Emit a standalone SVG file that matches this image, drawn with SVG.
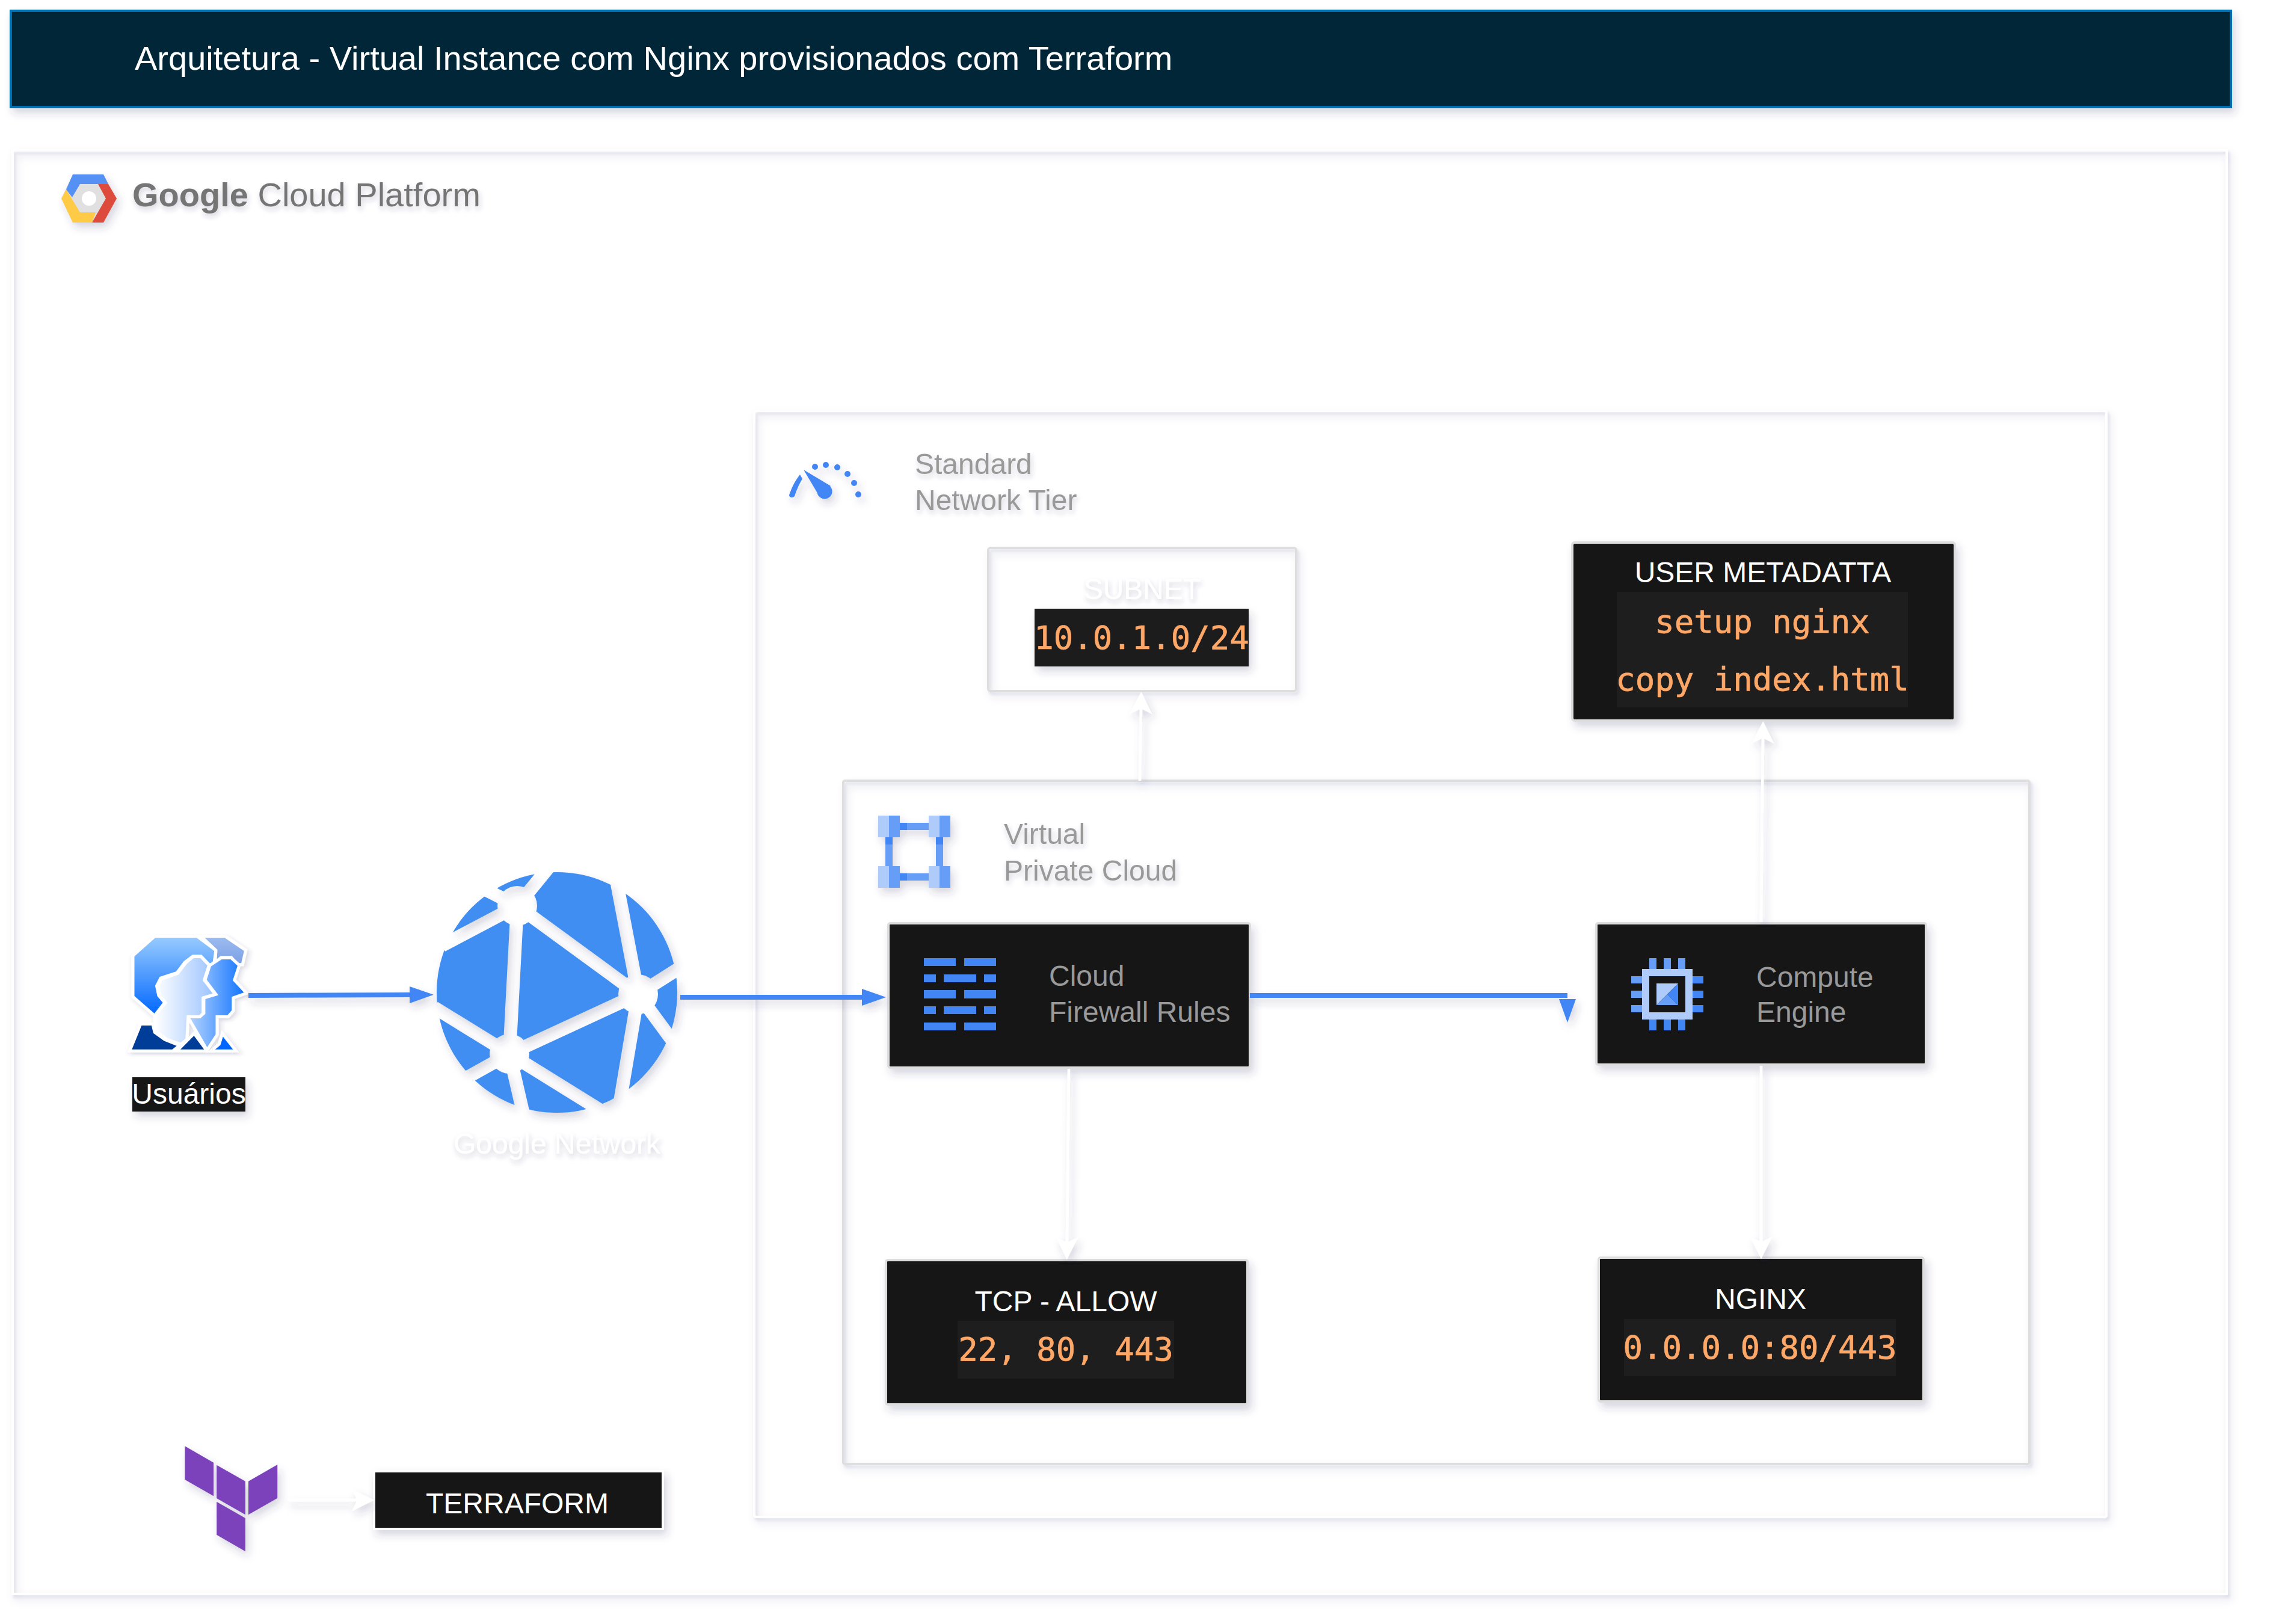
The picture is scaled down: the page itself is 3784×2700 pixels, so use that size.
<svg xmlns="http://www.w3.org/2000/svg" width="3784" height="2700" viewBox="0 0 3784 2700">
<style>
text{font-family:"Liberation Sans",Arial,sans-serif;font-size:48px}
.sh{filter:url(#sh)}
.ts{filter:url(#ts)}
.fr{filter:url(#fr)}
.box{fill:#171717;stroke:#dedede;stroke-width:4}
.frame{fill:none;stroke:#fff;stroke-width:4}
.grey{fill:none;stroke:#dedede;stroke-width:4}
.code{fill:#1e1e1e}
.mono{font-family:"DejaVu Sans Mono","Liberation Mono",monospace;font-size:54px;fill:#ffa766;stroke:#ffa766;stroke-width:.7;text-anchor:middle}
.w{fill:#fff}
.g{fill:#999}
.m{text-anchor:middle}
.b{fill:#4285f4}
.bl{stroke:#4285f4;stroke-width:8;fill:none}
.wl{stroke:#fff;stroke-width:4.5;fill:none}
.u{stroke:#fff;stroke-width:5;vector-effect:non-scaling-stroke;stroke-linejoin:miter}
</style>
<defs>
<filter id="sh" filterUnits="userSpaceOnUse" x="0" y="0" width="3784" height="2700"><feDropShadow dx="5" dy="8" stdDeviation="7" flood-color="#35356a" flood-opacity=".2"/></filter>
<filter id="ts" filterUnits="userSpaceOnUse" x="0" y="0" width="3784" height="2700"><feDropShadow dx="2" dy="5" stdDeviation="4" flood-color="#35356a" flood-opacity=".22"/></filter>
<filter id="fr" filterUnits="userSpaceOnUse" x="0" y="0" width="3784" height="2700">
<feDropShadow in="SourceGraphic" dx="5" dy="8" stdDeviation="7" flood-color="#35356a" flood-opacity=".14" result="a"/>
<feDropShadow in="a" dx="3" dy="4" stdDeviation="2" flood-color="#35356a" flood-opacity=".1"/></filter>
<marker id="mb" markerUnits="userSpaceOnUse" markerWidth="42" markerHeight="30" refX="0" refY="15" orient="auto"><polygon points="0,1 40,15 0,29" fill="#4285f4"/></marker>
<marker id="mbd" markerUnits="userSpaceOnUse" markerWidth="48" markerHeight="30" refX="-6" refY="15" orient="90" overflow="visible"><polygon points="0,1 39,15 0,29" fill="#4285f4"/></marker>
<marker id="mw" markerUnits="userSpaceOnUse" markerWidth="40" markerHeight="40" refX="9" refY="19" orient="auto"><polygon points="0,0.5 37,19 0,37.5 9,19" fill="#fff"/></marker>
<linearGradient id="ga" x1="0" y1="0" x2="0" y2="1"><stop offset="0" stop-color="#99ccff"/><stop offset="1" stop-color="#0066ff"/></linearGradient>
<linearGradient id="gb" x1="0" y1="0" x2="0" y2="1"><stop offset="0" stop-color="#9dbcf0"/><stop offset="1" stop-color="#7a9fe4"/></linearGradient>
<linearGradient id="gc" x1="0" y1="0" x2="1" y2="0"><stop offset="0" stop-color="#b8d6ff"/><stop offset="1" stop-color="#0a70ff"/></linearGradient>
<linearGradient id="gd" x1="0" y1="0" x2="1" y2="0"><stop offset="0" stop-color="#ffffff"/><stop offset="1" stop-color="#99c2ff"/></linearGradient>
<mask id="globe" maskUnits="userSpaceOnUse" x="700" y="1420" width="460" height="460">
<circle cx="926" cy="1650" r="200" fill="#fff"/>
<g stroke="#000" stroke-width="22" fill="none">
<path d="M860 1506L1061 1653L847 1752ZM860 1506L914 1440M860 1506L735 1572M860 1506L805 1478"/>
<path d="M1061 1653L1026 1470M1061 1653L1135 1606M1061 1653L1125 1740M1061 1653L1026 1860"/>
<path d="M847 1752L722 1675M847 1752L770 1795M847 1752L872 1860M847 1752L1005 1850"/>
</g>
<g fill="#000"><circle cx="860" cy="1506" r="33"/><circle cx="1061" cy="1653" r="33"/><circle cx="847" cy="1752" r="33"/></g>
</mask>
</defs>
<rect width="3784" height="2700" fill="#fff"/>

<g id="title"><rect class="sh" x="18" y="18" width="3691" height="160" fill="#012639" stroke="#006eaf" stroke-width="4"/>
<text class="w" x="224" y="116" style="font-size:56px">Arquitetura - Virtual Instance com Nginx provisionados com Terraform</text></g>

<g id="gcp"><rect class="frame fr" x="21" y="250" width="3681" height="2400"/>
<g class="sh"><polygon points="121,290 172,290 194,330 172,370 121,370 102,330" fill="#e0e0e0"/>
<polygon points="121,290 172,290 180,306 133,306 120,328 110,315" fill="#5591f5"/>
<polygon points="163,306 180,306 194,330 172,370 153,370 176,330" fill="#dd4b3e"/>
<polygon points="102,330 110,315 133,353 159,353 153,370 121,370" fill="#ffcb47"/>
<circle cx="148" cy="330" r="12" fill="#fff"/></g>
<text class="ts" x="220" y="343" fill="#757575" style="font-size:56px"><tspan font-weight="bold">Google</tspan> Cloud Platform</text></g>

<g id="tier"><rect class="frame fr" x="1254" y="683" width="2248" height="1839" rx="3"/>
<g class="sh"><path d="M1312 823C1316 812 1320 802 1330 789L1334 796C1327 808 1324 816 1321 825C1318 828 1312 828 1312 823Z" class="b"/>
<path d="M1336 781L1381 808L1361 823Z" class="b"/><circle cx="1371" cy="817" r="12.5" class="b"/>
<g class="b"><circle cx="1355" cy="776" r="5"/><circle cx="1373" cy="773" r="5"/><circle cx="1392" cy="777" r="5"/><circle cx="1409" cy="788" r="5"/><circle cx="1420" cy="803" r="5"/><circle cx="1427" cy="822" r="5"/></g></g>
<text class="g ts" x="1521" y="788">Standard</text><text class="g ts" x="1521" y="848">Network Tier</text></g>

<g id="subnet"><rect class="grey fr" x="1643" y="911" width="512" height="238" rx="4"/>
<text class="w m ts" x="1899" y="996">SUBNET</text>
<rect class="sh" x="1720" y="1012" width="356" height="96" fill="#1e1e1e"/>
<text class="mono" x="1898" y="1079">10.0.1.0/24</text></g>

<g id="metadata"><rect class="box sh" x="2614" y="902" width="636" height="296" rx="4"/>
<text class="w m" x="2931" y="968">USER METADATTA</text>
<rect class="code" x="2688" y="984" width="484" height="192"/>
<text class="mono" x="2930" y="1052">setup nginx</text><text class="mono" x="2930" y="1148">copy index.html</text></g>

<g id="vpc"><rect class="grey fr" x="1402" y="1298" width="1972" height="1136" rx="3"/>
<g class="sh"><rect x="1472" y="1392" width="12" height="48" fill="#669df6"/><rect x="1556" y="1392" width="12" height="48" fill="#669df6"/>
<rect x="1472" y="1392" width="12" height="12" fill="#4285f4"/><rect x="1556" y="1392" width="12" height="12" fill="#4285f4"/>
<rect x="1496" y="1368" width="48" height="12" fill="#669df6"/><rect x="1496" y="1368" width="12" height="12" fill="#4285f4"/>
<rect x="1496" y="1452" width="48" height="12" fill="#669df6"/><rect x="1496" y="1452" width="12" height="12" fill="#4285f4"/>
<g fill="#aecbfa"><rect x="1460" y="1356" width="18" height="36"/><rect x="1544" y="1356" width="18" height="36"/><rect x="1460" y="1440" width="18" height="36"/><rect x="1544" y="1440" width="18" height="36"/></g>
<g fill="#669df6"><rect x="1478" y="1356" width="18" height="36"/><rect x="1562" y="1356" width="18" height="36"/><rect x="1478" y="1440" width="18" height="36"/><rect x="1562" y="1440" width="18" height="36"/></g></g>
<text class="g ts" x="1669" y="1403">Virtual</text><text class="g ts" x="1669" y="1464">Private Cloud</text></g>

<g id="firewall"><rect class="box sh" x="1477" y="1535" width="601" height="240" rx="3"/>
<g class="b"><rect x="1536" y="1593" width="53" height="13"/><rect x="1603" y="1593" width="53" height="13"/>
<rect x="1536" y="1620" width="20" height="13"/><rect x="1569" y="1620" width="54" height="13"/><rect x="1636" y="1620" width="20" height="13"/>
<rect x="1536" y="1646" width="53" height="14"/><rect x="1603" y="1646" width="53" height="14"/>
<rect x="1536" y="1673" width="20" height="13"/><rect x="1569" y="1673" width="54" height="13"/><rect x="1636" y="1673" width="20" height="13"/>
<rect x="1536" y="1700" width="53" height="13"/><rect x="1603" y="1700" width="53" height="13"/></g>
<text class="g" x="1744" y="1639">Cloud</text><text class="g" x="1744" y="1699">Firewall Rules</text></g>

<g id="compute"><rect class="box sh" x="2654" y="1535" width="548" height="235" rx="3"/>
<g fill="#669df6"><rect x="2742" y="1593" width="12" height="18"/><rect x="2766" y="1593" width="12" height="18"/><rect x="2790" y="1593" width="12" height="18"/>
<rect x="2712" y="1623" width="18" height="12"/><rect x="2712" y="1647" width="18" height="12"/><rect x="2712" y="1671" width="18" height="12"/></g>
<g class="b"><rect x="2742" y="1695" width="12" height="18"/><rect x="2766" y="1695" width="12" height="18"/><rect x="2790" y="1695" width="12" height="18"/>
<rect x="2814" y="1623" width="18" height="12"/><rect x="2814" y="1647" width="18" height="12"/><rect x="2814" y="1671" width="18" height="12"/></g>
<path fill="#aecbfa" fill-rule="evenodd" d="M2730 1611H2814V1695H2730ZM2742 1623V1683H2802V1623Z"/>
<polygon points="2754,1635 2790,1635 2754,1671" fill="#aecbfa"/><polygon points="2790,1635 2790,1671 2772,1653" fill="#4285f4"/><polygon points="2754,1671 2790,1671 2772,1653" fill="#669df6"/>
<text class="g" x="2920" y="1641">Compute</text><text class="g" x="2920" y="1699">Engine</text></g>

<g id="tcp"><rect class="box sh" x="1473" y="2095" width="601" height="240" rx="3"/>
<text class="w m" x="1772" y="2180">TCP - ALLOW</text>
<rect class="code" x="1592" y="2196" width="360" height="96"/>
<text class="mono" x="1772" y="2262">22, 80, 443</text></g>

<g id="nginx"><rect class="box sh" x="2658" y="2091" width="540" height="239" rx="3"/>
<text class="w m" x="2927" y="2176">NGINX</text>
<rect class="code" x="2700" y="2193" width="452" height="95"/>
<text class="mono" x="2926" y="2259">0.0.0.0:80/443</text></g>

<g id="users"><g class="sh" transform="translate(150 1400) scale(.6698 .3954)">
<polygon class="u" fill="url(#ga)" points="160,396 265,396 312,455 307,515 295,515 275,480 255,480 235,505 215,550 175,572 165,605 170,645 185,675 160,730 106,650 106,478"/>
<polygon class="u" fill="url(#gb)" points="275,396 335,396 386,455 378,515 365,515 350,485 325,485 310,510 312,455"/>
<polygon class="u" fill="url(#gc)" points="325,487 350,487 370,518 358,580 388,635 355,655 355,710 342,735 315,735 315,810 290,875 258,780 242,735 272,735 282,720 282,655 312,640 285,580 297,518"/>
<polygon class="u" fill="url(#gd)" points="255,482 275,482 295,518 283,580 310,640 280,655 280,720 272,735 243,735 240,830 225,850 190,830 160,790 160,730 187,675 172,645 168,605 177,575 217,552 237,508"/>
<polygon class="u" fill="#003c99" points="125,765 155,765 160,800 185,830 222,855 205,878 98,878"/>
<polygon class="u" fill="#003c99" points="258,805 290,878 215,878"/>
<polygon class="u" fill="#0066ff" points="328,805 362,878 300,878 320,850"/>
</g>
<rect class="sh" x="220" y="1791" width="188" height="57" fill="#171717"/>
<text class="w m" x="314" y="1835">Usuários</text></g>

<g id="network"><g class="sh"><rect x="700" y="1420" width="460" height="460" fill="#3f8ef1" mask="url(#globe)"/></g>
<text class="w m ts" x="926" y="1918">Google Network</text></g>

<g id="terraform-logo" class="sh"><g transform="translate(250 2390) scale(.574 .3333)" fill="#7b42bc">
<polygon points="100,43 183,125 183,292 100,210"/><polygon points="192,137 275,218 275,385 192,303"/><polygon points="368,135 284,218 284,385 368,302"/><polygon points="192,320 275,402 275,568 192,485"/></g></g>

<g id="terraform"><rect class="sh" x="622" y="2446" width="480" height="96" fill="#171717" stroke="#fff" stroke-width="4"/>
<text class="w m" x="860" y="2516">TERRAFORM</text></g>

<g id="connectors" class="sh">
<path class="wl" d="M1895 1298L1897 1178" marker-end="url(#mw)"/>
<path class="wl" d="M2928 1533L2931 1227" marker-end="url(#mw)"/>
<path class="wl" d="M1777 1777L1774 2066" marker-end="url(#mw)"/>
<path class="wl" d="M2928 1772V2065" marker-end="url(#mw)"/>
<path class="wl" d="M478 2494H594" marker-end="url(#mw)"/>
<path class="bl" d="M413 1655L681 1654" marker-end="url(#mb)"/>
<path class="bl" d="M1131 1658H1433" marker-end="url(#mb)"/>
<path class="bl" d="M2078 1655H2606" marker-end="url(#mbd)"/>
</g>
</svg>
